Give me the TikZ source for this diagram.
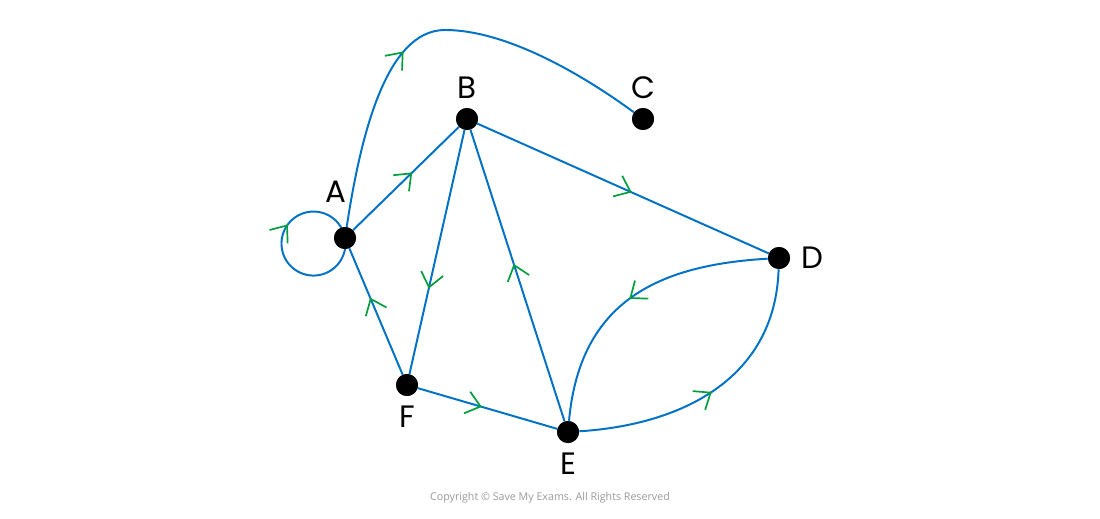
\documentclass[tikz,border=0pt]{standalone}
\usepackage{fontspec}
\setmainfont{Poppins}
\newfontfamily\copyfont{Open Sans}
\usetikzlibrary{arrows.meta,positioning,decorations.markings}
\definecolor{linkblue}{RGB}{0,114,198}
\definecolor{tipgreen}{RGB}{0,158,60}

\begin{document}
\begin{tikzpicture}[
            x=0.025cm, y=-0.025cm,
            vertex/.style={circle,fill=black,inner sep=0pt,minimum size=0.55cm},
            lbl/.style={on grid,font=\fontsize{22}{26}\selectfont},
            link/.style={draw=linkblue,line width=1.4pt},
            mid/.style={postaction={decorate},decoration={markings,
                mark=at position #1 with {\arrow[tipgreen,line width=1.2pt]{Straight Barb[length=10pt,width=16pt]}}}}
        ]
        \useasboundingbox (0,0) rectangle (1100,519);

        % Draw vertices %
        \node[vertex] (A) at (345,238) {};
        \node[vertex] (B) at (467,119) {};
        \node[vertex] (C) at (643,119) {};
        \node[vertex] (D) at (779,258) {};
        \node[vertex] (E) at (568,432) {};
        \node[vertex] (F) at (407,385) {};
        \coordinate (top) at (445,30);

        % Labels %
        \node[lbl, above left=1.15cm and 0.22cm of A] (lA) {A};
        \node[lbl, above=0.78cm of B] (lB) {B};
        \node[lbl, above=0.78cm of C] (lC) {C};
        \node[lbl, right=0.83cm of D] (lD) {D};
        \node[lbl, below=0.8cm of E] (lE) {E};
        \node[lbl, below=0.8cm of F] (lF) {F};

        % Draw straight arcs %
        \draw[link,mid=0.56] (A) -- (B);
        \draw[link,mid=0.53] (B) -- (D);
        \draw[link,mid=0.65] (B) -- (F);
        \draw[link,mid=0.54] (E) -- (B);
        \draw[link,mid=0.61] (F) -- (A);
        \draw[link,mid=0.46] (F) -- (E);

        % Draw curved arcs %
        \draw[link,mid=0.49] (E) .. controls (680,425) and (775,380) .. (D);
        \draw[link,mid=0.51] (D) .. controls (660,265) and (580,300) .. (E);
        \draw[link,mid=0.42] (A) .. controls (360,140) and (385,30) .. (top)
            .. controls (510,30) and (590,80) .. (C);

        % Draw loop %
        \draw[link,mid=0.63] (A.center) arc[start angle=10,delta angle=-360,radius=0.8cm];

        % Redraw dots on top %
        \foreach \v in {A,B,C,D,E,F}
            \fill (\v) circle[radius=0.275cm];

        % Copyright %
        \node[font=\copyfont\fontsize{7.6}{9}\selectfont, text=black!40] (copy) at (550,498) {Copyright © Save My Exams. All Rights Reserved};
\end{tikzpicture}
\end{document}
